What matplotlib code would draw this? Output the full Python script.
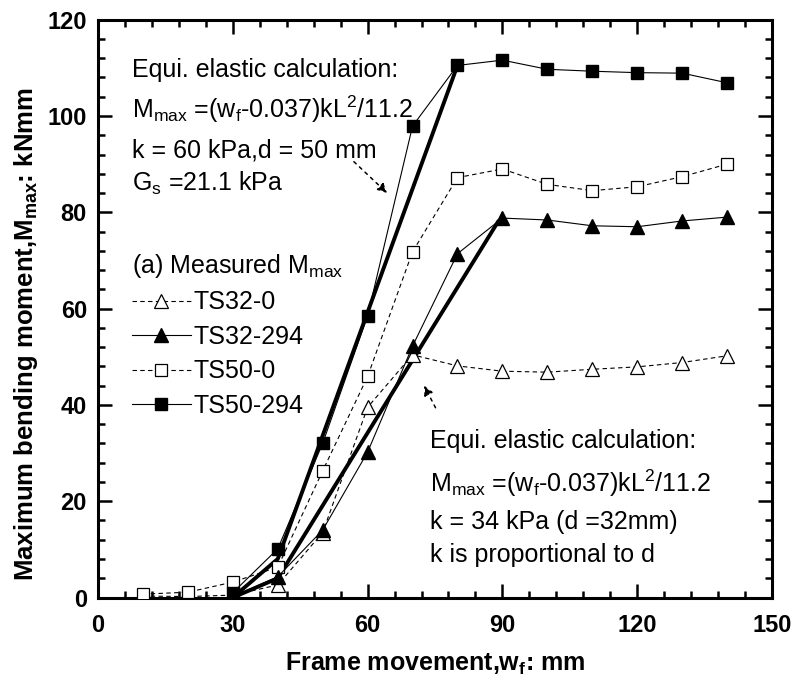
import numpy as np
import matplotlib
matplotlib.use("Agg")
import matplotlib.pyplot as plt

# data
ts32_0_x = [10, 20, 30, 40, 50, 60, 70, 80, 90, 100, 110, 120, 130, 140]
ts32_0_y = [0.3, 0.2, 0.5, 2.6, 13.5, 39.5, 50.4, 48.1, 47.0, 46.8, 47.4, 47.9, 48.8, 50.2]

ts32_294_x = [30, 40, 50, 60, 70, 80, 90, 100, 110, 120, 130, 140]
ts32_294_y = [0.2, 4.3, 14.0, 30.2, 52.2, 71.4, 78.8, 78.4, 77.2, 77.0, 78.2, 79.0]

ts50_0_x = [10, 20, 30, 40, 50, 60, 70, 80, 90, 100, 110, 120, 130, 140]
ts50_0_y = [0.7, 1.1, 3.2, 6.3, 26.3, 45.9, 71.8, 87.2, 89.0, 85.8, 84.5, 85.3, 87.4, 90.0]

ts50_294_x = [30, 40, 50, 60, 70, 80, 90, 100, 110, 120, 130, 140]
ts50_294_y = [1.0, 10.1, 32.0, 58.5, 97.9, 110.5, 111.6, 109.7, 109.3, 109.0, 108.9, 106.9]

# equivalent elastic calculation lines
calc50_x = [30, 40, 80]
calc50_y = [0, 8, 110.5]
calc32_x = [30, 40, 89]
calc32_y = [0, 4, 78]

plt.rcParams['font.family'] = ['Liberation Sans', 'DejaVu Sans']
plt.rcParams['mathtext.fontset'] = 'custom'
plt.rcParams['mathtext.rm'] = 'Liberation Sans'
plt.rcParams['mathtext.default'] = 'regular'

fig = plt.figure(figsize=(7.93, 6.91), dpi=100)
ax = fig.add_axes([0.1236, 0.1353, 0.8499, 0.8362])

dash = (0, (4, 3))
ms = 8.5

ax.plot(calc50_x, calc50_y, color='black', lw=2.8, zorder=2)
ax.plot(calc32_x, calc32_y, color='black', lw=2.8, zorder=2)

ax.plot(ts32_0_x, ts32_0_y, color='black', lw=0.8, linestyle=dash, marker='^',
        ms=ms + 1, mfc='white', mec='black', mew=0.9, label='TS32-0', zorder=3)
ax.plot(ts50_0_x, ts50_0_y, color='black', lw=0.8, linestyle=dash, marker='s',
        ms=ms, mfc='white', mec='black', mew=0.9, label='TS50-0', zorder=3)
ax.plot(ts32_294_x, ts32_294_y, color='black', lw=0.8, marker='^',
        ms=ms + 1, mfc='black', mec='black', label='TS32-294', zorder=4)
ax.plot(ts50_294_x, ts50_294_y, color='black', lw=0.8, marker='s',
        ms=ms, mfc='black', mec='black', label='TS50-294', zorder=4)

ax.set_xlim(0, 150)
ax.set_ylim(0, 120)
ax.set_xticks(np.arange(0, 151, 30))
ax.set_xticks(np.arange(0, 151, 6), minor=True)
ax.set_yticks(np.arange(0, 121, 20))
ax.set_yticks(np.arange(0, 121, 4), minor=True)
ax.tick_params(which='both', direction='in', top=True, right=True, width=1.8)
ax.tick_params(which='major', length=10, labelsize=17)
ax.tick_params(axis='x', which='major', pad=12)
ax.tick_params(axis='y', which='major', pad=8)
ax.tick_params(which='minor', length=5)
for lab in ax.get_xticklabels() + ax.get_yticklabels():
    lab.set_fontweight('bold')
for sp in ax.spines.values():
    sp.set_linewidth(2.2)

ax.set_xlabel('Frame movement,w$_{f}$: mm', fontsize=18, fontweight='bold', labelpad=10)
ax.set_ylabel('Maximum bending moment,M$_{max}$: kNmm', fontsize=18.5, fontweight='bold')
ax.yaxis.set_label_coords(-0.086, 0.455)

# legend
order = ['TS32-0', 'TS32-294', 'TS50-0', 'TS50-294']
h, l = ax.get_legend_handles_labels()
hd = dict(zip(l, h))
leg = ax.legend([hd[k] for k in order], order, loc='upper left',
                bbox_to_anchor=(0.017, 0.637), frameon=False, fontsize=18,
                numpoints=1, handlelength=2.36, handletextpad=0.1,
                labelspacing=0.42, title='(a) Measured M$_{max}$',
                title_fontsize=18)
leg._legend_box.align = 'left'

# annotation texts
txt1 = ['Equi. elastic calculation:',
        'M$_{max}$ =(w$_{f}$-0.037)kL$^{2}$/11.2',
        'k = 60 kPa,d = 50 mm',
        'G$_{s}$ =21.1 kPa']
ys1 = [109.6, 101.3, 92.9, 86.1]
for t, yy in zip(txt1, ys1):
    ax.text(7.5, yy, t, fontsize=18, va='center', ha='left')

txt2 = ['Equi. elastic calculation:',
        'M$_{max}$ =(w$_{f}$-0.037)kL$^{2}$/11.2',
        'k = 34 kPa (d =32mm)',
        'k is proportional to d']
ys2 = [32.4, 23.8, 15.7, 8.8]
for t, yy in zip(txt2, ys2):
    ax.text(73.9, yy, t, fontsize=18, va='center', ha='left')

ax.annotate('', xy=(64.8, 83.6), xytext=(56.5, 90.9),
            arrowprops=dict(arrowstyle='-|>', color='black', lw=1.1,
                            linestyle=(0, (2, 3)), mutation_scale=14))
ax.annotate('', xy=(72.3, 44.5), xytext=(75.4, 38.9),
            arrowprops=dict(arrowstyle='-|>', color='black', lw=1.1,
                            linestyle=(0, (2, 3)), mutation_scale=14))

fig.savefig('out.png', dpi=100)
